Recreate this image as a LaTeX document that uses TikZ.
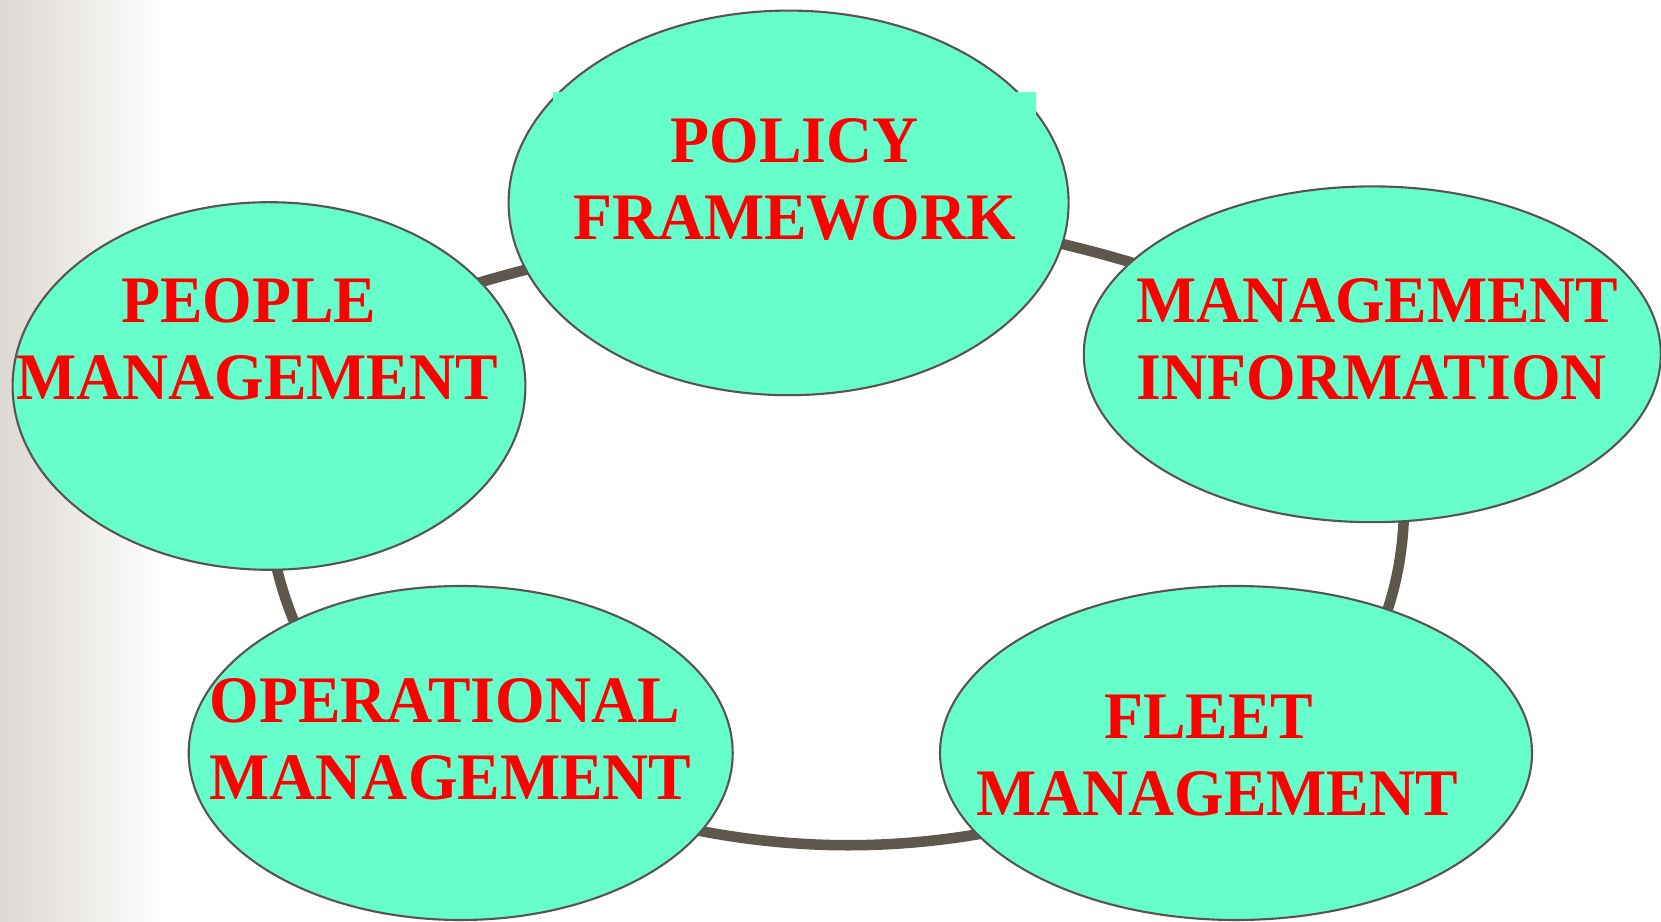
\documentclass[tikz,border=0pt]{standalone}
\usepackage{fontspec}
\newfontfamily\bubblefont{Liberation Serif}[FakeStretch=0.96]
\usetikzlibrary{shapes.geometric}
\pgfdeclarelayer{background}
\pgfsetlayers{background,main}
\definecolor{bubblefill}{RGB}{102,255,204}
\definecolor{bubbleline}{RGB}{89,84,80}
\definecolor{ringline}{RGB}{94,87,78}
\definecolor{edgegray}{RGB}{220,216,210}
\tikzset{
  bubble/.style={ellipse, draw=bubbleline, line width=0.6pt, fill=bubblefill, inner sep=0pt},
  caption/.style={text=red, inner sep=0pt, align=center,
    font=\bubblefont\bfseries\fontsize{18.9}{21.9}\selectfont},
  ring/.style={draw=ringline, line width=3pt}
}
\newcommand{\bubble}[5]{
  \node [bubble, minimum width=#4cm, minimum height=#5cm] (#1) at (#2,#3) {};
}

\begin{document}
\begin{tikzpicture}
\useasboundingbox (0,0) rectangle (16.61,9.21);
\begin{pgfonlayer}{background}
  \shade [left color=edgegray, right color=white] (0,0) rectangle (1.65,9.21);
\end{pgfonlayer}
\bubble{policy}{7.886}{7.181}{5.60}{3.846}
\bubble{people}{2.69}{5.35}{5.128}{3.676}
\bubble{info}{13.723}{5.667}{5.77}{3.358}
\bubble{fleet}{12.36}{1.68}{5.92}{3.34}
\bubble{oper}{4.607}{1.68}{5.44}{3.34}
% ring behind the bubbles
\begin{pgfonlayer}{background}
  \foreach \a/\b/\outang/\inang in {people/policy/36/198, policy/info/-5/156,
      info/fleet/-65/10, fleet/oper/-156/-24, oper/people/176/262}
    \draw [ring] (\a.center) to[out=\outang, in=\inang] (\b.center);
\end{pgfonlayer}
% labels
\node [caption, fill=bubblefill, minimum width=4.83cm, inner ysep=0.27cm, anchor=north]
  (policytext) at (7.945,8.30) {POLICY\\FRAMEWORK};
\node [caption] (peopletext) at (2.57,5.815) {PEOPLE\hspace*{0.25em}\\MANAGEMENT};
\node [caption, align=left, anchor=west] (infotext) at (11.36,5.815) {MANAGEMENT\\INFORMATION};
\node [caption, align=left, anchor=west] (opertext) at (2.09,1.815) {OPERATIONAL\\MANAGEMENT};
\node [caption] (fleettext) at (12.17,1.655) {FLEET\hspace*{0.25em}\\MANAGEMENT};
\end{tikzpicture}
\end{document}
